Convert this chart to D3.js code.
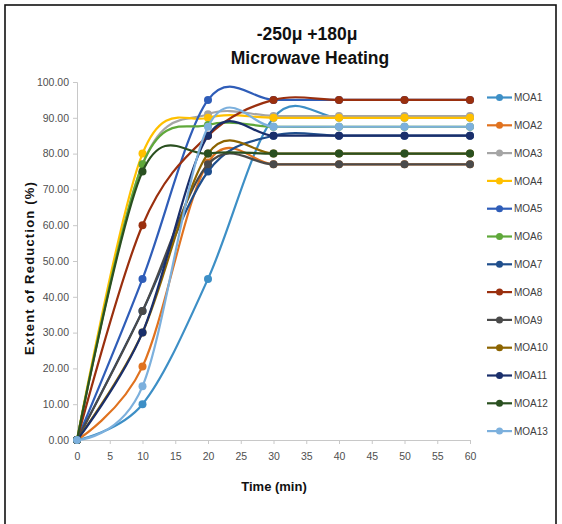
<!DOCTYPE html>
<html><head><meta charset="utf-8">
<script src="https://cdn.jsdelivr.net/npm/d3@7"></script>
<style>body{margin:0;background:#fff}svg{display:block}</style>
</head><body>
<script>
const times = [0, 10, 20, 30, 40, 50, 60];
const seriesNames = ["MOA1","MOA2","MOA3","MOA4","MOA5","MOA6","MOA7","MOA8","MOA9","MOA10","MOA11","MOA12","MOA13"];
const MOA1  = [0, 10, 45, 90, 90, 90, 90];
const MOA2  = [0, 20.5, 77.5, 77, 77, 77, 77];
const MOA3  = [0, 77, 91, 90.5, 90.5, 90.5, 90.5];
const MOA4  = [0, 80, 90, 90, 90, 90, 90];
const MOA5  = [0, 45, 95, 95, 95, 95, 95];
const MOA6  = [0, 77, 88, 87.5, 87.5, 87.5, 87.5];
const MOA7  = [0, 36, 75, 85, 85, 85, 85];
const MOA8  = [0, 60, 85, 95, 95, 95, 95];
const MOA9  = [0, 36, 77, 77, 77, 77, 77];
const MOA10 = [0, 30, 80, 80, 80, 80, 80];
const MOA11 = [0, 30, 85, 85, 85, 85, 85];
const MOA12 = [0, 75, 80, 80, 80, 80, 80];
const MOA13 = [0, 15, 87.5, 87.5, 87.5, 87.5, 87.5];
const seriesValues = [MOA1,MOA2,MOA3,MOA4,MOA5,MOA6,MOA7,MOA8,MOA9,MOA10,MOA11,MOA12,MOA13];
const colors = ["#3D8FC6","#E0721F","#A5A5A5","#FFC000","#2F5DB8","#5FA83A","#1F4E8C","#9A2F0E","#4A4A4A","#8C6400","#1A2F6B","#2A5020","#7CB0DD"];
const xTicks = d3.range(0, 61, 5);
const yTicks = d3.range(0, 101, 10);
const title1 = "-250\u03bc +180\u03bc";
const title2 = "Microwave Heating";
const xTitle = "Time (min)";
const yTitle = "Extent of Reduction (%)";

const W = 562, H = 524;
const svg = d3.select("body").append("svg").attr("width", W).attr("height", H);
svg.append("rect").attr("width", W).attr("height", H).attr("fill", "#fff");
svg.append("rect").attr("x", 5).attr("y", 5).attr("width", 551).attr("height", 540)
  .attr("fill", "none").attr("stroke", "#111").attr("stroke-width", 1.6);

const x = d3.scaleLinear().domain([0, 60]).range([77, 470]);
const y = d3.scaleLinear().domain([0, 100]).range([440, 82]);
const font = "'Liberation Sans', Arial, sans-serif";

// axes
const xAxis = svg.append("g").attr("transform", `translate(0,${y(0)})`)
  .call(d3.axisBottom(x).tickValues(xTicks).tickSize(4).tickPadding(9).tickFormat(d3.format("d")));
const yAxis = svg.append("g").attr("transform", `translate(${x(0)},0)`)
  .call(d3.axisLeft(y).tickValues(yTicks).tickSize(4).tickPadding(4).tickFormat(d3.format(".2f")));
[xAxis, yAxis].forEach(g => {
  g.select(".domain").attr("stroke", "#c8c8c8").attr("stroke-width", 1);
  g.selectAll(".tick line").attr("stroke", "#c8c8c8");
  g.selectAll(".tick text").attr("fill", "#505050").attr("font-size", 10.5).attr("font-family", font);
});

// titles
svg.append("text").attr("x", 307).attr("y", 40).attr("text-anchor", "middle")
  .attr("font-family", font).attr("font-weight", "bold").attr("font-size", 17.5).attr("fill", "#111").text(title1);
svg.append("text").attr("x", 310).attr("y", 64).attr("text-anchor", "middle")
  .attr("font-family", font).attr("font-weight", "bold").attr("font-size", 17.5).attr("fill", "#111").text(title2);
svg.append("text").attr("x", 274).attr("y", 491).attr("text-anchor", "middle")
  .attr("font-family", font).attr("font-weight", "bold").attr("font-size", 13).attr("fill", "#111").text(xTitle);
svg.append("text").attr("transform", "translate(34,268) rotate(-90)").attr("text-anchor", "middle")
  .attr("font-family", font).attr("font-weight", "bold").attr("font-size", 13).attr("letter-spacing", 1.2)
  .attr("fill", "#111").text(yTitle);

// series
const line = d3.line().x((d, i) => x(times[i])).y(d => y(d)).curve(d3.curveCardinal.tension(0));
seriesValues.forEach((vals, s) => {
  const g = svg.append("g");
  g.append("path").datum(vals).attr("d", line).attr("fill", "none")
    .attr("stroke", colors[s]).attr("stroke-width", 2.2);
  g.selectAll("circle").data(vals).join("circle")
    .attr("cx", (d, i) => x(times[i])).attr("cy", d => y(d)).attr("r", 4)
    .attr("fill", colors[s]);
});

// legend
const lg = svg.append("g");
seriesNames.forEach((name, i) => {
  const yy = 97.5 + i * 27.8;
  lg.append("line").attr("x1", 487).attr("x2", 512).attr("y1", yy).attr("y2", yy)
    .attr("stroke", colors[i]).attr("stroke-width", 2.2);
  lg.append("circle").attr("cx", 499.5).attr("cy", yy).attr("r", 3.5).attr("fill", colors[i]);
  lg.append("text").attr("x", 514).attr("y", yy + 3.7).attr("font-family", font)
    .attr("font-size", 10).attr("fill", "#404040").text(name);
});
</script>
</body></html>
